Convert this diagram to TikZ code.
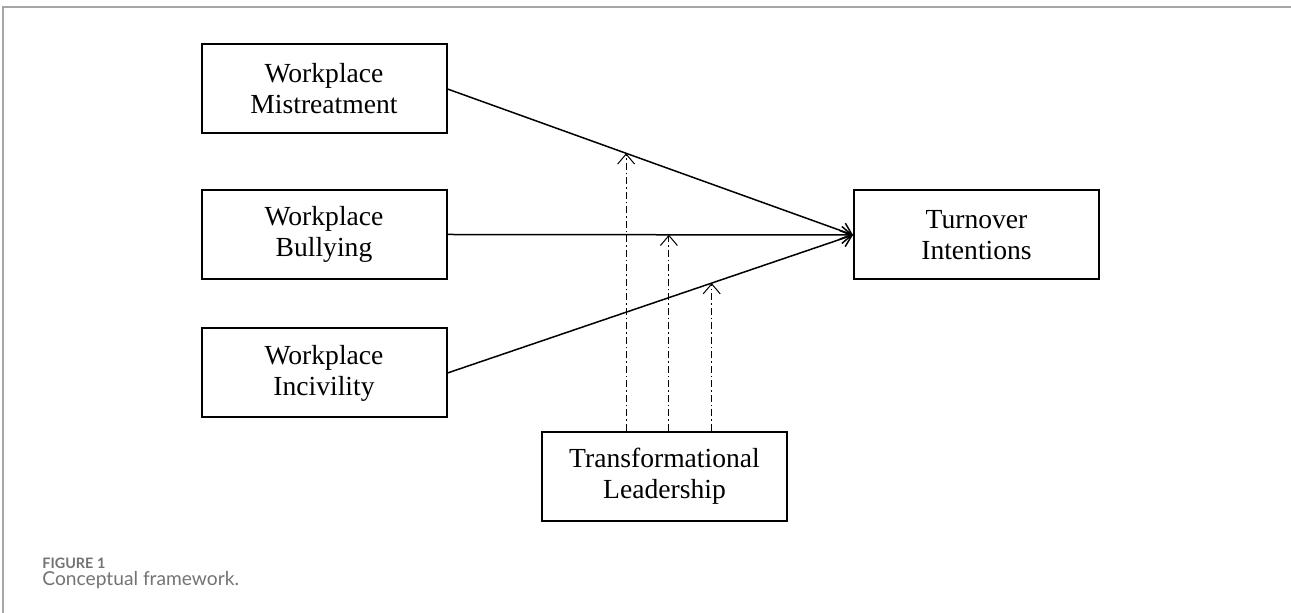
\documentclass[tikz,border=0pt]{standalone}
\usepackage{fontspec}
\setmainfont{Liberation Serif}
\newfontfamily\capfont{Lato}
\usetikzlibrary{arrows.meta, positioning}
\definecolor{framegray}{rgb}{0.65, 0.65, 0.65}
\definecolor{capgray}{rgb}{0.45, 0.45, 0.45}

\begin{document}
\begin{tikzpicture}[x=0.5pt, y=-0.5pt,
		box/.style={draw, line width=1pt, minimum width=122.5pt, minimum height=44.5pt, inner sep=0pt, align=center, font=\fontsize{13.8}{15.5}\selectfont},
		effect/.style={line width=0.75pt, -{Straight Barb[length=5pt, width=8.5pt]}},
		moderation/.style={line width=0.5pt, dash pattern=on 3.5pt off 1.5pt on 0.75pt off 1.5pt, -{Straight Barb[length=5pt, width=8.5pt]}}]
		\useasboundingbox (0,0) rectangle (1291,613);
		\draw [framegray, line width=1pt] (1291,7)--(3,7)--(3,613);
		
		\node [box] (mistreat) at (324,89) {Workplace\\Mistreatment};
		\node [box] (bully) at (324,234.5) {Workplace\\Bullying};
		\node [box] (incivil) at (324,373) {Workplace\\Incivility};
		\node [box] (turnover) at (976.5,235) {Turnover\\Intentions};
		\node [box] (leader) at (664.5,476.5) {Transformational\\Leadership};
		
		\draw [effect] (mistreat.east) -- coordinate[pos=0.4405] (m1) (turnover.west);
		\draw [effect] (bully.east) -- coordinate[pos=0.546] (m2) (turnover.west);
		\draw [effect] (incivil.east) -- coordinate[pos=0.6515] (m3) (turnover.west);
		
		\foreach \m in {m1,m2,m3}{
			\draw [moderation] (\m |- leader.north) -- (\m);
		}
		
		\node [anchor=base west, inner sep=0pt, text=capgray, font=\capfont\bfseries\fontsize{7.2}{8}\selectfont] (fignum) at (42,569) {FIGURE 1};
		\node [anchor=base west, inner sep=0pt, text=capgray, font=\capfont\fontsize{9.6}{11}\selectfont] (figcap) at (42,586) {Conceptual framework.};
	\end{tikzpicture}
\end{document}
